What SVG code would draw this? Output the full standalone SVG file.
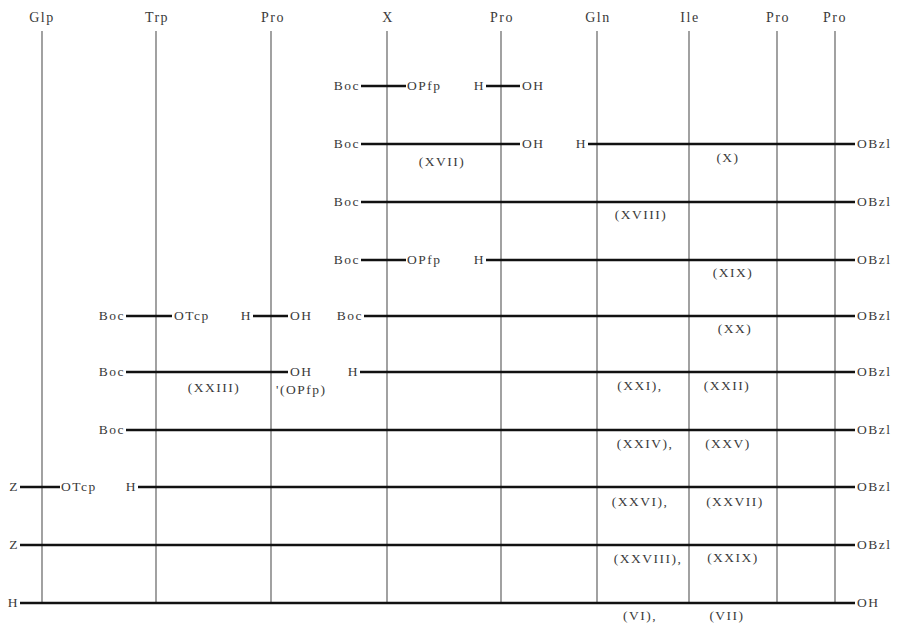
<svg xmlns="http://www.w3.org/2000/svg" width="900" height="623" viewBox="0 0 900 623">
<style>
text{font-family:"Liberation Serif","DejaVu Serif",serif;font-size:13.5px;fill:#3a3a3a;letter-spacing:1.5px}
.h{font-size:14px;text-anchor:middle}
.c{text-anchor:middle}
.e{text-anchor:end}
.v{stroke:#555;stroke-width:1.1;fill:none}
.b{stroke:#111;stroke-width:2.6;fill:none}
</style>
<rect width="900" height="623" fill="#fff"/>
<g id="residues">
<g id="r1"><text class="h" x="42" y="22">Glp</text></g>
<g id="r2"><text class="h" x="157" y="22">Trp</text></g>
<g id="r3"><text class="h" x="273" y="22">Pro</text></g>
<g id="r4"><text class="h" x="388" y="22">X</text></g>
<g id="r5"><text class="h" x="502" y="22">Pro</text></g>
<g id="r6"><text class="h" x="598" y="22">Gln</text></g>
<g id="r7"><text class="h" x="690" y="22">Ile</text></g>
<g id="r8"><text class="h" x="778" y="22">Pro</text></g>
<g id="r9"><text class="h" x="835" y="22">Pro</text></g>
</g>
<g id="connectors">
<line class="v" x1="42" y1="31" x2="42" y2="603"/>
<line class="v" x1="156" y1="31" x2="156" y2="603"/>
<line class="v" x1="271" y1="31" x2="271" y2="603"/>
<line class="v" x1="387" y1="31" x2="387" y2="603"/>
<line class="v" x1="501" y1="31" x2="501" y2="603"/>
<line class="v" x1="597" y1="31" x2="597" y2="603"/>
<line class="v" x1="689" y1="31" x2="689" y2="603"/>
<line class="v" x1="777" y1="31" x2="777" y2="603"/>
<line class="v" x1="835" y1="31" x2="835" y2="603"/>
<line class="b" x1="361" y1="86" x2="406" y2="86"/>
<line class="b" x1="486" y1="86" x2="520" y2="86"/>
<line class="b" x1="361" y1="144" x2="520" y2="144"/>
<line class="b" x1="588" y1="144" x2="855" y2="144"/>
<line class="b" x1="361" y1="202" x2="855" y2="202"/>
<line class="b" x1="361" y1="260" x2="406" y2="260"/>
<line class="b" x1="486" y1="260" x2="855" y2="260"/>
<line class="b" x1="126" y1="316" x2="172" y2="316"/>
<line class="b" x1="253" y1="316" x2="288" y2="316"/>
<line class="b" x1="364" y1="316" x2="855" y2="316"/>
<line class="b" x1="126" y1="372" x2="288" y2="372"/>
<line class="b" x1="360" y1="372" x2="855" y2="372"/>
<line class="b" x1="126" y1="430" x2="855" y2="430"/>
<line class="b" x1="20" y1="487" x2="60" y2="487"/>
<line class="b" x1="138" y1="487" x2="855" y2="487"/>
<line class="b" x1="20" y1="545" x2="855" y2="545"/>
<line class="b" x1="20" y1="603" x2="855" y2="603"/>
</g>
<g id="labels">
<text class="e" x="360" y="90">Boc</text><text x="407" y="90">OPfp</text>
<text class="e" x="485" y="90">H</text><text x="522" y="90">OH</text>
<text class="e" x="360" y="148">Boc</text><text x="522" y="148">OH</text>
<text class="e" x="587" y="148">H</text><text x="857" y="148">OBzl</text>
<text class="c" x="442" y="166">(XVII)</text>
<text class="c" x="728" y="162">(X)</text>
<text class="e" x="360" y="206">Boc</text><text x="857" y="206">OBzl</text>
<text class="c" x="641" y="219">(XVIII)</text>
<text class="e" x="360" y="264">Boc</text><text x="407" y="264">OPfp</text>
<text class="e" x="485" y="264">H</text><text x="857" y="264">OBzl</text>
<text class="c" x="733" y="277">(XIX)</text>
<text class="e" x="125" y="320">Boc</text><text x="174" y="320">OTcp</text>
<text class="e" x="252" y="320">H</text><text x="290" y="320">OH</text>
<text class="e" x="363" y="320">Boc</text><text x="857" y="320">OBzl</text>
<text class="c" x="735" y="333">(XX)</text>
<text class="e" x="125" y="376">Boc</text><text x="290" y="376">OH</text>
<text class="c" x="214" y="392">(XXIII)</text>
<text x="276" y="394">'(OPfp)</text>
<text class="e" x="359" y="376">H</text><text x="857" y="376">OBzl</text>
<text class="c" x="640" y="390">(XXI),</text>
<text class="c" x="727" y="390">(XXII)</text>
<text class="e" x="125" y="434">Boc</text><text x="857" y="434">OBzl</text>
<text class="c" x="645" y="448">(XXIV),</text>
<text class="c" x="728" y="448">(XXV)</text>
<text class="e" x="19" y="491">Z</text><text x="61" y="491">OTcp</text>
<text class="e" x="137" y="491">H</text><text x="857" y="491">OBzl</text>
<text class="c" x="640" y="506">(XXVI),</text>
<text class="c" x="735" y="506">(XXVII)</text>
<text class="e" x="19" y="549">Z</text><text x="857" y="549">OBzl</text>
<text class="c" x="648" y="563">(XXVIII),</text>
<text class="c" x="733" y="562">(XXIX)</text>
<text class="e" x="19" y="607">H</text><text x="857" y="607">OH</text>
<text class="c" x="640" y="620">(VI),</text>
<text class="c" x="727" y="620">(VII)</text>
</g>
</svg>
